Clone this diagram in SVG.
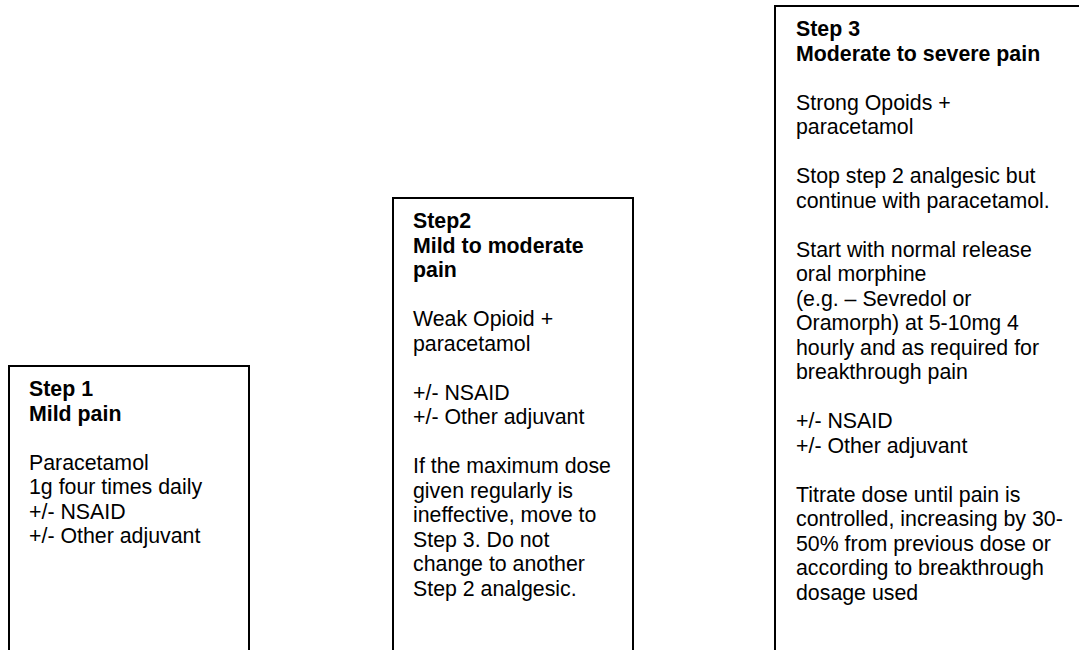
<svg xmlns="http://www.w3.org/2000/svg" width="1079" height="650" viewBox="0 0 1079 650">
<style>
.box{fill:none;stroke:#000;stroke-width:2}
.t{font-family:"Liberation Sans",Arial,sans-serif;font-size:21.33px;fill:#000}
.b{font-weight:bold}
</style>
<rect width="1079" height="650" fill="#fff"/>
<g id="step1">
<path class="box" d="M9,652 V366 H249 V652"/>
<text class="t">
<tspan class="b" x="29" y="396.3">Step 1</tspan>
<tspan class="b" x="29" y="420.8">Mild pain</tspan>
<tspan x="29" y="469.8">Paracetamol</tspan>
<tspan x="29" y="494.3">1g four times daily</tspan>
<tspan x="29" y="518.8">+/- NSAID</tspan>
<tspan x="29" y="543.3">+/- Other adjuvant</tspan>
</text>
</g>
<g id="step2">
<path class="box" d="M393,652 V198 H633 V652"/>
<text class="t">
<tspan class="b" x="413" y="228.3">Step2</tspan>
<tspan class="b" x="413" y="252.8">Mild to moderate</tspan>
<tspan class="b" x="413" y="277.3">pain</tspan>
<tspan x="413" y="326.3">Weak Opioid +</tspan>
<tspan x="413" y="350.8">paracetamol</tspan>
<tspan x="413" y="399.8">+/- NSAID</tspan>
<tspan x="413" y="424.3">+/- Other adjuvant</tspan>
<tspan x="413" y="473.3">If the maximum dose</tspan>
<tspan x="413" y="497.8">given regularly is</tspan>
<tspan x="413" y="522.3">ineffective, move to</tspan>
<tspan x="413" y="546.8">Step 3. Do not</tspan>
<tspan x="413" y="571.3">change to another</tspan>
<tspan x="413" y="595.8">Step 2 analgesic.</tspan>
</text>
</g>
<g id="step3">
<path class="box" d="M775,652 V6 H1082"/>
<text class="t">
<tspan class="b" x="796" y="36.3">Step 3</tspan>
<tspan class="b" x="796" y="60.8">Moderate to severe pain</tspan>
<tspan x="796" y="109.8">Strong Opoids +</tspan>
<tspan x="796" y="134.3">paracetamol</tspan>
<tspan x="796" y="183.3">Stop step 2 analgesic but</tspan>
<tspan x="796" y="207.8">continue with paracetamol.</tspan>
<tspan x="796" y="256.8">Start with normal release</tspan>
<tspan x="796" y="281.3">oral morphine</tspan>
<tspan x="796" y="305.8">(e.g. – Sevredol or</tspan>
<tspan x="796" y="330.3">Oramorph) at 5-10mg 4</tspan>
<tspan x="796" y="354.8">hourly and as required for</tspan>
<tspan x="796" y="379.3">breakthrough pain</tspan>
<tspan x="796" y="428.3">+/- NSAID</tspan>
<tspan x="796" y="452.8">+/- Other adjuvant</tspan>
<tspan x="796" y="501.8">Titrate dose until pain is</tspan>
<tspan x="796" y="526.3">controlled, increasing by 30-</tspan>
<tspan x="796" y="550.8">50% from previous dose or</tspan>
<tspan x="796" y="575.3">according to breakthrough</tspan>
<tspan x="796" y="599.8">dosage used</tspan>
</text>
</g>
<g id="connectors"/>
</svg>
